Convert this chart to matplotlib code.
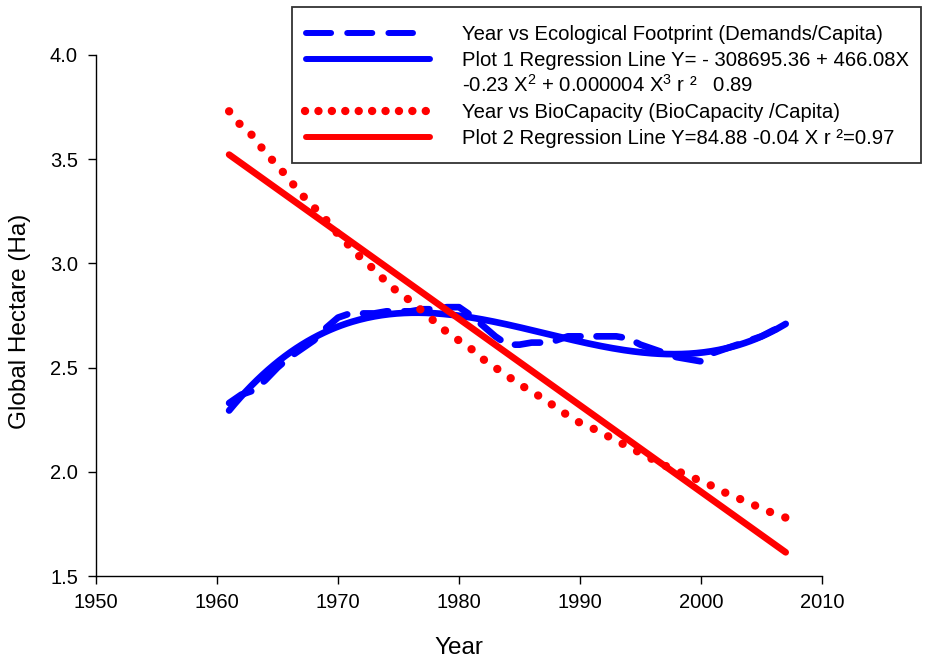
import numpy as np
import matplotlib
matplotlib.use("Agg")
import matplotlib.pyplot as plt
from matplotlib.lines import Line2D
from matplotlib.patches import Rectangle

plt.rcParams['font.family'] = ['Liberation Sans', 'DejaVu Sans']
plt.rcParams['mathtext.fontset'] = 'custom'
plt.rcParams['mathtext.rm'] = 'Liberation Sans'
plt.rcParams['mathtext.it'] = 'Liberation Sans'

# ---- data ----
years = list(range(1961, 2008))

footprint = [2.33, 2.37, 2.39, 2.44, 2.50, 2.55, 2.59, 2.63, 2.69, 2.74,
             2.76, 2.76, 2.76, 2.77, 2.77, 2.77, 2.78, 2.78, 2.79, 2.79,
             2.75, 2.70, 2.65, 2.61, 2.61, 2.62, 2.62, 2.63, 2.65, 2.65,
             2.65, 2.65, 2.65, 2.64, 2.61, 2.59, 2.57, 2.55, 2.54, 2.53,
             2.57, 2.59, 2.61, 2.63, 2.65, 2.68, 2.70]

biocapacity = [3.73, 3.66, 3.61, 3.53, 3.47, 3.40, 3.33, 3.27, 3.21, 3.14,
               3.08, 3.02, 2.97, 2.91, 2.86, 2.82, 2.77, 2.72, 2.67, 2.63,
               2.59, 2.54, 2.50, 2.46, 2.42, 2.385, 2.35, 2.31, 2.27, 2.235,
               2.21, 2.18, 2.15, 2.12, 2.09, 2.06, 2.03, 2.005, 1.98, 1.955,
               1.93, 1.90, 1.875, 1.85, 1.825, 1.80, 1.78]

# linear regression for biocapacity: Y = a + b X
reg2_intercept = 84.88
reg2_slope = -0.041488

x_ticks = [1950, 1960, 1970, 1980, 1990, 2000, 2010]
y_ticks = [1.5, 2.0, 2.5, 3.0, 3.5, 4.0]

legend_labels = [
    "Year vs Ecological Footprint (Demands/Capita)",
    "Plot 1 Regression Line Y= - 308695.36 + 466.08X",
    "-0.23 X$^{2}$ + 0.000004 X$^{3}$ r \u00b2   0.89",
    "Year vs BioCapacity (BioCapacity /Capita)",
    "Plot 2 Regression Line Y=84.88 -0.04 X r \u00b2=0.97",
]

BLUE = '#0000ff'
RED = '#ff0000'

# ---- figure ----
W, H = 925, 661
fig = plt.figure(figsize=(W / 100, H / 100), dpi=100)
ax = fig.add_axes([96 / W, 1 - 576 / H, 726 / W, 521 / H])

yrs = np.array(years, dtype=float)
fp = np.array(footprint)
bc = np.array(biocapacity)

# cubic regression of the footprint series
cubic = np.polynomial.Polynomial.fit(yrs, fp, 3)
xs = np.linspace(yrs.min(), yrs.max(), 300)

LW = 4.8
DOT_LW = 6.0
dash_style = (0, (3.8, 2.4))
dot_style = (0, (0.01, 1.94))

ax.plot(yrs, fp, color=BLUE, lw=LW, linestyle=dash_style,
        dash_capstyle='round', solid_capstyle='round', zorder=2)
ax.plot(xs, cubic(xs), color=BLUE, lw=LW, solid_capstyle='round', zorder=3)
ax.plot(yrs, bc, color=RED, lw=DOT_LW, linestyle=dot_style,
        dash_capstyle='round', zorder=4)
ax.plot(xs, reg2_intercept + reg2_slope * xs, color=RED, lw=LW,
        solid_capstyle='round', zorder=5)

ax.set_xlim(1950, 2010)
ax.set_ylim(1.5, 4.0)
ax.set_xticks(x_ticks)
ax.set_yticks(y_ticks)
ax.set_yticklabels([f"{v:.1f}" for v in y_ticks])
ax.tick_params(direction='out', length=6, width=1, labelsize=14.5)
ax.tick_params(axis='x', pad=6)
ax.tick_params(axis='y', pad=7)
for s in ('top', 'right'):
    ax.spines[s].set_visible(False)
for s in ('left', 'bottom'):
    ax.spines[s].set_linewidth(1)

ax.set_xlabel("Year", fontsize=17.5)
ax.set_ylabel("Global Hectare (Ha)", fontsize=17.5)
ax.xaxis.set_label_coords(0.5, -(648 - 576) / 521, transform=ax.transAxes)
ax.xaxis.label.set_va('center')
ax.yaxis.set_label_coords(-(96 - 20) / 726, (576 - 321) / 521,
                          transform=ax.transAxes)
ax.yaxis.label.set_va('center')

# ---- legend box ----
def fx(px):
    return px / W

def fy(py):
    return 1 - py / H

fig.add_artist(Rectangle((fx(292), fy(163)), fx(921) - fx(292), fy(7) - fy(163),
                         transform=fig.transFigure, facecolor='white',
                         edgecolor='#333333', lw=1.3, zorder=10))

rows = [33, 59, 85, 111, 137]
samples = [
    (dict(color=BLUE, lw=4.3, linestyle=(0, (4.2, 2.7)), dash_capstyle='round'), 306, 413),
    (dict(color=BLUE, lw=4.3, solid_capstyle='round'), 306, 430),
    None,
    (dict(color=RED, lw=DOT_LW, linestyle=(0, (0.01, 1.6)), dash_capstyle='round'), 305, 426),
    (dict(color=RED, lw=4.3, solid_capstyle='round'), 306, 430),
]
for row, label, sample in zip(rows, legend_labels, samples):
    if sample is not None:
        style, x0, x1 = sample
        fig.add_artist(Line2D([fx(x0), fx(x1)], [fy(row), fy(row)],
                              transform=fig.transFigure, zorder=11, **style))
    fig.text(fx(462), fy(row + 6.5), label, fontsize=14.6, va='baseline',
             ha='left', zorder=12)

fig.savefig("out.png", dpi=100)
